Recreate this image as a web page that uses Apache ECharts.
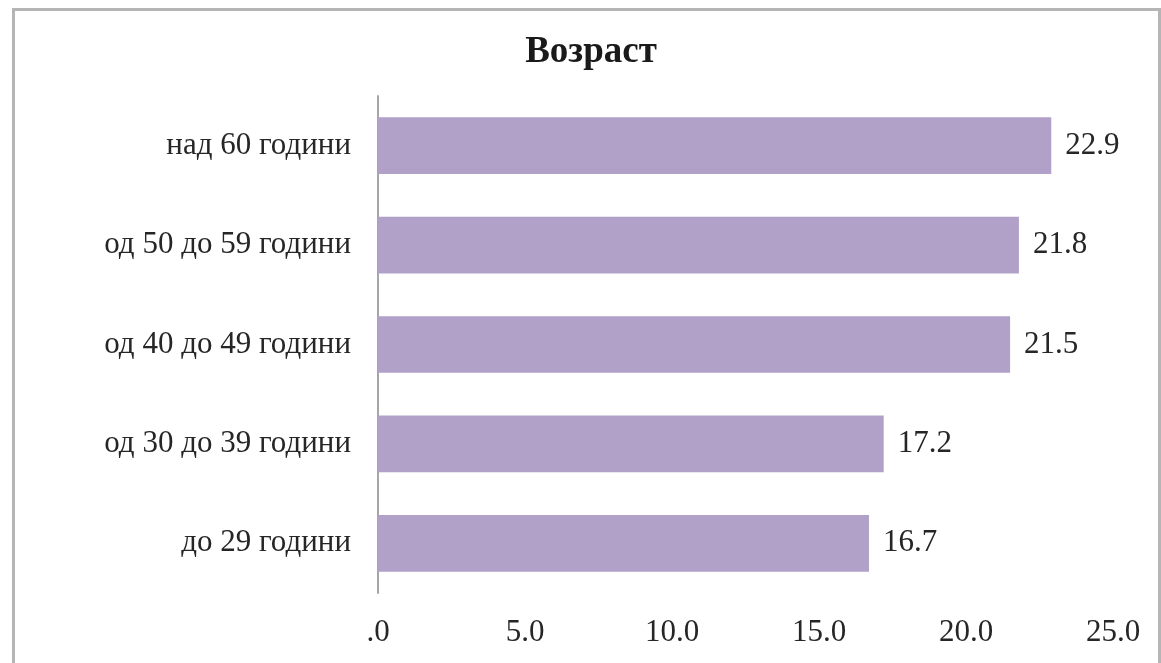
<!DOCTYPE html>
<html>
<head>
<meta charset="utf-8">
<script src="https://cdn.jsdelivr.net/npm/echarts@6/dist/echarts.min.js"></script>
<style>
  html, body { margin: 0; padding: 0; background: #fff; overflow: hidden; }
  #frame { position: absolute; left: 12px; top: 8px; width: 1143px; height: 720px; border: 3px solid #b5b5b5; }
  #chart { position: absolute; left: 0; top: 0; width: 1161px; height: 663px; }
</style>
</head>
<body>
<div id="frame"></div>
<div id="chart"></div>
<script>
// данни
const categories = ["до 29 години", "од 30 до 39 години", "од 40 до 49 години", "од 50 до 59 години", "над 60 години"];
const values = [16.7, 17.2, 21.5, 21.8, 22.9];
const tickLabels = [".0", "5.0", "10.0", "15.0", "20.0", "25.0"];

const font = "'Liberation Serif', 'Times New Roman', serif";

const chartObj = echarts.init(document.getElementById("chart"));
const option = {
  backgroundColor: "transparent",
  title: {
    text: "Возраст",
    left: 586,
    textAlign: "center",
    top: 29,
    textStyle: { fontFamily: font, fontSize: 37, fontWeight: "bold", color: "#1a1a1a" }
  },
  grid: { left: 378, top: 96, width: 735, height: 497, containLabel: false },
  xAxis: {
    type: "value",
    min: 0,
    max: 25,
    interval: 5,
    axisLine: { show: false },
    axisTick: { show: false },
    splitLine: { show: false },
    axisLabel: {
      margin: 24,
      fontFamily: font,
      fontSize: 31,
      color: "#262626",
      formatter: (v) => tickLabels[Math.round(v / 5)]
    }
  },
  yAxis: {
    type: "category",
    data: categories,
    axisLine: { show: true, lineStyle: { color: "#a6a6a6", width: 2 } },
    axisTick: { show: false },
    axisLabel: { margin: 27, fontFamily: font, fontSize: 31, color: "#262626" }
  },
  series: [
    {
      type: "bar",
      data: values,
      barCategoryGap: "43%",
      itemStyle: { color: "#b1a1c8" },
      label: {
        show: true,
        position: "right",
        distance: 14,
        fontFamily: font,
        fontSize: 31,
        color: "#262626",
        formatter: (p) => p.value.toFixed(1)
      }
    }
  ]
};
chartObj.setOption(option);
window.addEventListener("resize", function () {
  chartObj.resize();
});
</script>
</body>
</html>
